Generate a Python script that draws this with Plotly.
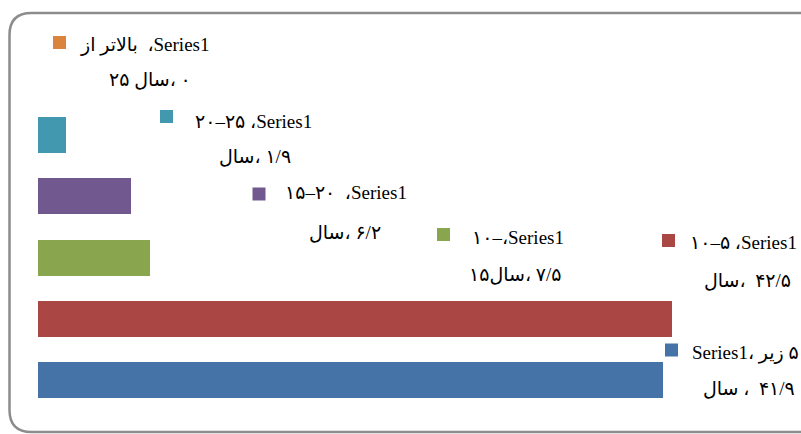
import plotly.graph_objects as go

# ---- data -------------------------------------------------------------
categories = ["زیر ۵ سال", "۵-۱۰ سال", "۱۰-۱۵ سال", "۱۵-۲۰ سال", "۲۰-۲۵ سال", "بالاتر از ۲۵ سال"]
values = [41.9, 42.5, 7.5, 6.2, 1.9, 0]
series_name = "Series1"
colors = ["#4572A7", "#AA4643", "#89A54E", "#71588F", "#4198AF", "#DB843D"]

# ---- helpers ------------------------------------------------------------
W, H = 801, 434
LRM = "\u200e"


def ltr(s):
    # left-to-right run, fenced by LRM marks so neighbouring runs keep their order
    return LRM + s + LRM


def rtl(s):
    return s


FA_DIGITS = str.maketrans("0123456789.", "۰۱۲۳۴۵۶۷۸۹/")


def fa(v):
    return f"{v:g}".translate(FA_DIGITS)


def px(x):
    return x / W


def py(y):
    return 1 - y / H


S = series_name
# data label lines, runs listed in display order
label_line1 = [
    ltr(f"{S}، ") + rtl("زیر") + ltr(" ۵"),
    ltr("۱۰–۵") + " " + ltr(f"،{S}"),
    ltr(f"۱۰–،{S}"),
    ltr("۱۵–۲۰") + "  " + ltr(f"،{S}"),
    ltr("۲۰–۲۵") + " " + ltr(f"،{S}"),
    rtl("بالاتر از") + ltr(f"  ،{S}"),
]
label_line2 = [
    rtl("سال") + ltr(f" ،  {fa(values[0])}"),
    rtl("سال") + ltr(f"،  {fa(values[1])}"),
    ltr("۱۵") + rtl("سال") + ltr(f"، {fa(values[2])}"),
    rtl("سال") + ltr(f"، {fa(values[3])}"),
    rtl("سال") + ltr(f"، {fa(values[4])}"),
    ltr("۲۵ ") + rtl("سال") + ltr(f"، {fa(values[5])}"),
]

# label placement in pixels: key square centre, line-1 left edge / y, line-2 centre / y
label_pos = [
    ((671.5, 350.0), (690, 353), (749, 388)),
    ((668.5, 240.5), (688, 243), (747, 280)),
    ((443.5, 234.5), (470, 238), (515, 274)),
    ((259.0, 194.0), (283, 192), (345, 232)),
    ((166.5, 116.5), (193, 121), (255, 157)),
    ((59.5, 42.5), (78, 45), (150, 80)),
]

# ---- figure -------------------------------------------------------------
x0_px, unit_px = 38.0, 14.92         # value axis: zero position and pixels per unit
y0_px, step_px, bar_px = 380.0, 61.2, 36.0

fig = go.Figure()
fig.add_trace(go.Bar(
    x=values,
    y=list(range(len(categories))),
    orientation="h",
    marker=dict(color=colors, line=dict(width=0)),
    width=bar_px / step_px,
    hovertext=categories,
    hoverinfo="text+x",
))

xr = [-x0_px / unit_px, (W - x0_px) / unit_px]
ymin = -(H - y0_px) / step_px
yr = [ymin, ymin + H / step_px]

shapes = []
annotations = []
font_fam = "Liberation Serif, DejaVu Sans, serif"
for i in range(len(categories)):
    (sx, sy), (l1x, l1y), (l2x, l2y) = label_pos[i]
    shapes.append(dict(
        type="rect", xref="paper", yref="paper",
        x0=px(sx - 6.5), x1=px(sx + 6.5), y0=py(sy + 6.5), y1=py(sy - 6.5),
        fillcolor=colors[i], line=dict(width=0),
    ))
    annotations.append(dict(
        xref="paper", yref="paper", x=px(l1x), y=py(l1y),
        xanchor="left", yanchor="middle", showarrow=False,
        text=label_line1[i], font=dict(family=font_fam, size=19, color="#000"),
    ))
    annotations.append(dict(
        xref="paper", yref="paper", x=px(l2x), y=py(l2y),
        xanchor="center", yanchor="middle", showarrow=False,
        text=label_line2[i], font=dict(family=font_fam, size=19, color="#000"),
    ))

# rounded chart frame
fl, ft, fr, fb, r = 9.5, 13.0, 845.0, 432.0, 22.0
path = (
    f"M {px(fl)} {py(ft + r)} "
    f"Q {px(fl)} {py(ft)} {px(fl + r)} {py(ft)} "
    f"L {px(fr - r)} {py(ft)} "
    f"Q {px(fr)} {py(ft)} {px(fr)} {py(ft + r)} "
    f"L {px(fr)} {py(fb - r)} "
    f"Q {px(fr)} {py(fb)} {px(fr - r)} {py(fb)} "
    f"L {px(fl + r)} {py(fb)} "
    f"Q {px(fl)} {py(fb)} {px(fl)} {py(fb - r)} Z"
)
shapes.append(dict(type="path", xref="paper", yref="paper", path=path,
                   line=dict(color="#8c8c8c", width=2.5), fillcolor="rgba(0,0,0,0)",
                   layer="below"))

fig.update_layout(
    width=W, height=H,
    margin=dict(l=0, r=0, t=0, b=0),
    paper_bgcolor="white", plot_bgcolor="white",
    showlegend=False,
    bargap=0,
    xaxis=dict(range=xr, visible=False, fixedrange=True),
    yaxis=dict(range=yr, visible=False, fixedrange=True),
    shapes=shapes,
    annotations=annotations,
)

fig.write_html("out.html")
